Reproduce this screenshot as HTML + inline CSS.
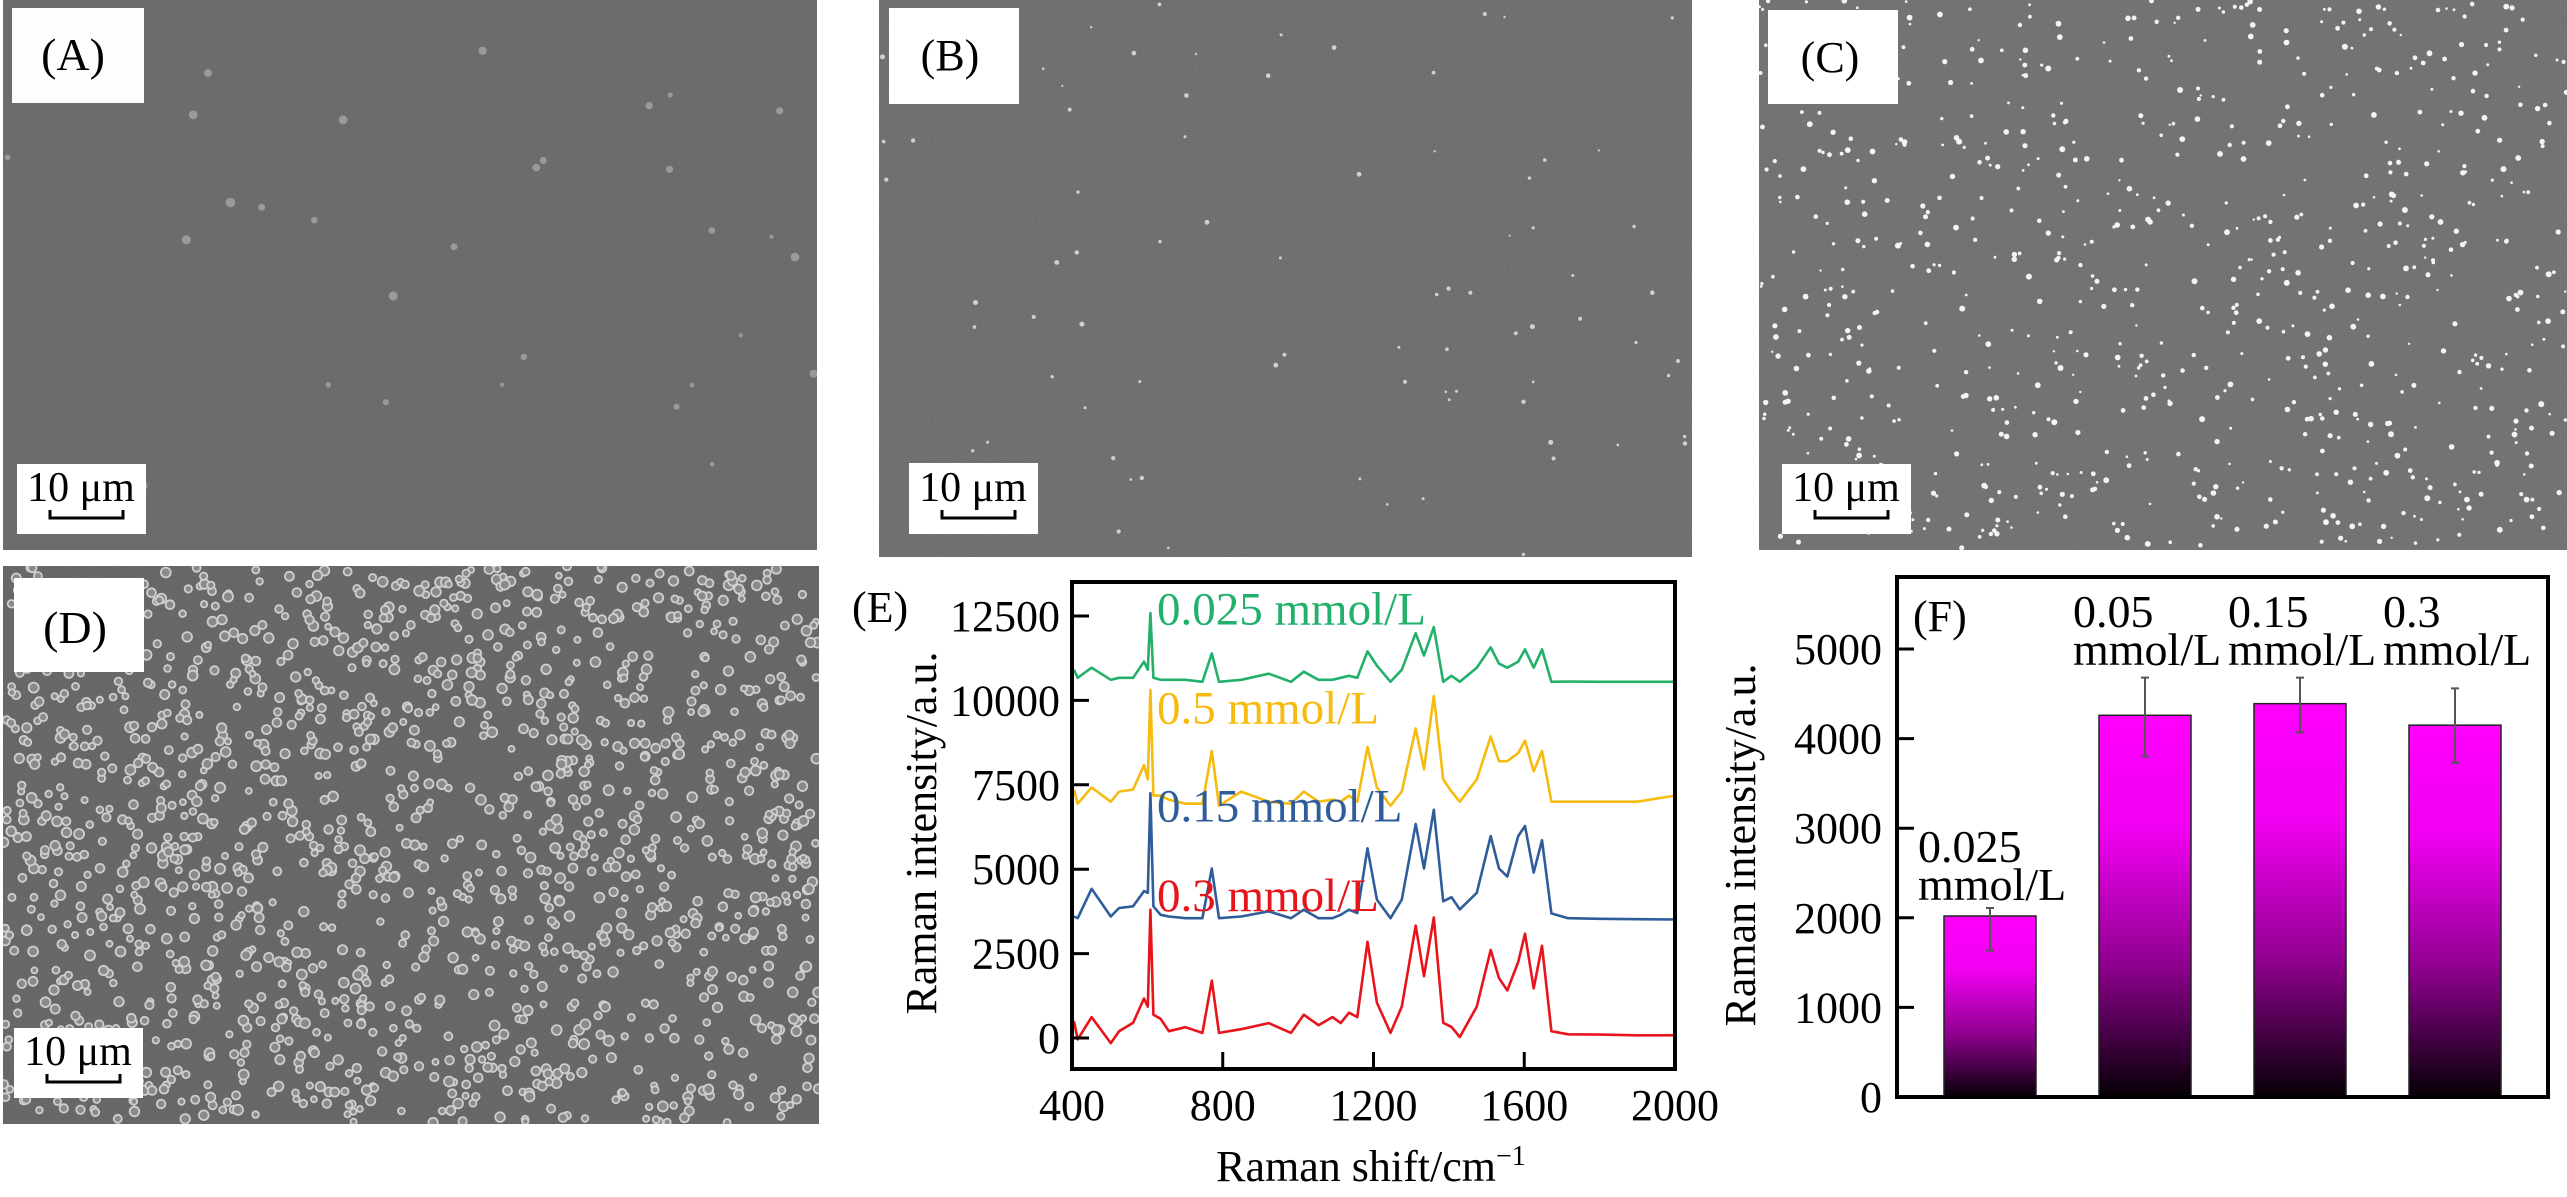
<!DOCTYPE html>
<html><head><meta charset="utf-8"><style>
html,body{margin:0;padding:0;background:#fff;}
svg{display:block;}
text{font-family:"Liberation Serif",serif;}
</style></head><body>
<svg id="fig" width="2567" height="1197" viewBox="0 0 2567 1197" xmlns="http://www.w3.org/2000/svg">
<defs>
<filter id="grain" x="0" y="0" width="100%" height="100%">
<feTurbulence type="fractalNoise" baseFrequency="0.9" numOctaves="2" seed="3" result="n"/>
<feColorMatrix type="matrix" values="0 0 0 0 1  0 0 0 0 1  0 0 0 0 1  0.9 0 0 0 -0.45"/>
</filter>
<linearGradient id="barGrad" x1="0" y1="0" x2="0" y2="1">
<stop offset="0" stop-color="#ff00ff"/>
<stop offset="0.3" stop-color="#f000f0"/>
<stop offset="0.65" stop-color="#900090"/>
<stop offset="1" stop-color="#050005"/>
</linearGradient>
<clipPath id="clipE"><rect x="1072" y="582" width="603" height="487"/></clipPath>
<clipPath id="clipA"><rect x="3" y="0" width="814" height="550"/></clipPath>
<clipPath id="clipB"><rect x="879" y="0" width="813" height="557"/></clipPath>
<clipPath id="clipC"><rect x="1759" y="0" width="808" height="550"/></clipPath>
<clipPath id="clipD"><rect x="3" y="566" width="816" height="558"/></clipPath>
</defs>

<g>
<rect x="3" y="0" width="814" height="550" fill="#6c6c6c"/>
<g id="dotsA" clip-path="url(#clipA)"></g>
<rect x="12" y="8" width="132" height="95" fill="#fdfdfd"/>
<text x="73" y="70" font-size="46" text-anchor="middle">(A)</text>
<rect x="17" y="464" width="129" height="70" fill="#fff"/>
<text x="81" y="501" font-size="42" text-anchor="middle">10 μm</text>
<path d="M50 510 V518 H123 V510" fill="none" stroke="#000" stroke-width="3"/>
</g>

<g>
<rect x="879" y="0" width="813" height="557" fill="#6e6e6e"/>
<rect x="879" y="0" width="813" height="557" filter="url(#grain)" opacity="0.35"/>
<g id="dotsB" clip-path="url(#clipB)"></g>
<rect x="889" y="8" width="130" height="96" fill="#fff"/>
<text x="950" y="70" font-size="44" text-anchor="middle">(B)</text>
<rect x="909" y="463" width="129" height="71" fill="#fff"/>
<text x="973" y="501" font-size="42" text-anchor="middle">10 μm</text>
<path d="M942 510 V518 H1015 V510" fill="none" stroke="#000" stroke-width="3"/>
</g>

<g>
<rect x="1759" y="0" width="808" height="550" fill="#727272"/>
<rect x="1759" y="0" width="808" height="550" filter="url(#grain)" opacity="0.2"/>
<g id="dotsC" clip-path="url(#clipC)"></g>
<rect x="1768" y="10" width="130" height="94" fill="#fff"/>
<text x="1830" y="72" font-size="44" text-anchor="middle">(C)</text>
<rect x="1782" y="464" width="129" height="70" fill="#fff"/>
<text x="1846" y="501" font-size="42" text-anchor="middle">10 μm</text>
<path d="M1815 510 V518 H1888 V510" fill="none" stroke="#000" stroke-width="3"/>
</g>

<g>
<rect x="3" y="566" width="816" height="558" fill="#666666"/>
<rect x="3" y="566" width="816" height="558" filter="url(#grain)" opacity="0.25"/>
<g id="dotsD" clip-path="url(#clipD)"></g>
<rect x="14" y="578" width="130" height="94" fill="#fff"/>
<text x="75" y="643" font-size="46" text-anchor="middle">(D)</text>
<rect x="14" y="1028" width="129" height="70" fill="#fff"/>
<text x="78" y="1065" font-size="42" text-anchor="middle">10 μm</text>
<path d="M47 1074 V1082 H120 V1074" fill="none" stroke="#000" stroke-width="3"/>
</g>

<g id="chartE">
<text x="852" y="622" font-size="44">(E)</text>
<g id="seriesE" clip-path="url(#clipE)"></g>
<g id="ticksE"></g>
<rect x="1072" y="582" width="603" height="487" fill="none" stroke="#000" stroke-width="4"/>
<text transform="translate(936,833) rotate(-90)" font-size="44" text-anchor="middle">Raman intensity/a.u.</text>
<text x="1371" y="1181" font-size="44" text-anchor="middle">Raman shift/cm<tspan dy="-16" font-size="28">−1</tspan></text>
</g>

<g id="chartF">
<g id="barsF"></g>
<g id="ticksF"></g>
<rect x="1897" y="577" width="651" height="520" fill="none" stroke="#000" stroke-width="4"/>
<text x="1913" y="631" font-size="44">(F)</text>
<text transform="translate(1755,845) rotate(-90)" font-size="44" text-anchor="middle">Raman intensity/a.u.</text>
</g>
</svg>
<script>
var wavenumbers = [405,415,452,503,525,562,591,601,608,616,635,657,701,746,771,790,849,922,981,1015,1054,1091,1113,1135,1157,1184,1209,1245,1275,1312,1334,1360,1385,1407,1429,1474,1511,1533,1555,1584,1602,1625,1647,1672,1716,1800,1900,2000];
var green025 = [10910,10670,10970,10610,10670,10670,11150,10910,12590,10670,10610,10610,10610,10550,11390,10550,10610,10790,10550,10850,10610,10610,10670,10730,10670,11450,11030,10550,10910,11990,11330,12170,10550,10730,10550,10970,11570,11090,10970,11150,11510,10970,11510,10550,10560,10550,10550,10550];
var gold05 = [7360,6940,7420,7000,7300,7360,8080,7660,10310,7180,7180,7060,6940,6940,8500,6880,7300,7000,6940,7300,7000,7060,7000,7180,7000,8620,7420,6880,7300,9170,7960,10130,7660,7300,7000,7660,8930,8200,8200,8440,8810,7900,8500,7000,7000,7000,7000,7180];
var blue015 = [3600,3550,4420,3600,3850,3900,4350,4300,7250,3900,3650,3600,3550,3550,5020,3550,3600,3750,3550,3800,3550,3550,3650,3800,3700,5620,4100,3550,4100,6340,5020,6760,4050,4170,3810,4300,5980,5020,4780,5980,6280,4900,5860,3690,3550,3530,3520,3510];
var red03 = [500,-40,620,-150,200,450,1170,930,3800,690,570,200,320,150,1700,150,260,440,150,690,380,620,440,750,620,2850,1050,150,930,3330,1830,3570,450,330,30,930,2610,1770,1410,2250,3090,1470,2730,200,110,100,80,80];
var seriesLabels = ["0.025 mmol/L","0.5 mmol/L","0.15 mmol/L","0.3 mmol/L"];
var seriesColors = ["#22b06a","#f7bb0f","#2f5d9a","#e8141c"];
var labelValues = [12250,9320,6420,3760];
var xTicksE = [400,800,1200,1600,2000];
var yTicksE = [0,2500,5000,7500,10000,12500];

var concCats = [["0.025","mmol/L"],["0.05","mmol/L"],["0.15","mmol/L"],["0.3","mmol/L"]];
var barValues = [2020,4260,4390,4150];
var errHigh = [2110,4680,4680,4560];
var errLow = [1635,3800,4070,3730];
var yTicksF = [0,1000,2000,3000,4000,5000];

var NS = "http://www.w3.org/2000/svg";
function mk(tag, attrs, parent){var e=document.createElementNS(NS,tag);for(var k in attrs)e.setAttribute(k,attrs[k]);if(parent)parent.appendChild(e);return e;}

var xE = function(v){return 1072 + (v-400)*(603/1600);};
var yE = function(v){return 1038 - v*(422/12500);};

var sE = document.getElementById('seriesE');
var allSeries = [green025,gold05,blue015,red03];
var seriesNames = ['series-0-025','series-0-5','series-0-15','series-0-3'];
for (var s=0;s<allSeries.length;s++){
  var pts = wavenumbers.map(function(w,i){return xE(w).toFixed(1)+','+yE(allSeries[s][i]).toFixed(1);}).join(' ');
  var pl = mk('polyline',{points:pts,fill:'none',stroke:seriesColors[s],'stroke-width':2.6,'stroke-linejoin':'round'},sE);
  
  
}
var chE = document.getElementById('chartE');
for (var s=0;s<seriesLabels.length;s++){
  var t = mk('text',{x:1157,y:yE(labelValues[s]).toFixed(1),'font-size':47,fill:seriesColors[s]},chE);
  t.textContent = seriesLabels[s];
  
  
}
var tE = document.getElementById('ticksE');
xTicksE.forEach(function(v){
  var l = mk('line',{x1:xE(v),x2:xE(v),y1:1069,y2:1052,stroke:'#000','stroke-width':3},tE);
  
  
  var t = mk('text',{x:xE(v),y:1120,'font-size':44,'text-anchor':'middle'},tE);
  t.textContent = v;
  
  
});
yTicksE.forEach(function(v){
  var l = mk('line',{x1:1072,x2:1089,y1:yE(v),y2:yE(v),stroke:'#000','stroke-width':3},tE);
  
  
  var t = mk('text',{x:1060,y:yE(v)+15,'font-size':44,'text-anchor':'end'},tE);
  t.textContent = v;
  
  
});

var xF = function(i){return 1990 + 155*i;};
var yF = function(v){return 1097 - v*(448/5000);};
var bF = document.getElementById('barsF');
barValues.forEach(function(v,i){
  var r = mk('rect',{x:xF(i)-46,y:yF(v),width:92,height:1097-yF(v),fill:'url(#barGrad)',stroke:'#222','stroke-width':1.5},bF);
  
  
  var e = mk('path',{d:'M'+xF(i)+' '+yF(errHigh[i])+' V'+yF(errLow[i])+' M'+(xF(i)-4)+' '+yF(errHigh[i])+' h8 M'+(xF(i)-4)+' '+yF(errLow[i])+' h8',stroke:'#555','stroke-width':2,fill:'none'},bF);
  
  
  var top = (i===0) ? yF(errHigh[i]) - 8 : 665;
  var lx = xF(i) - 72;
  var t1 = mk('text',{x:lx,y:top-38,'font-size':46},bF);
  t1.textContent = concCats[i][0];
  
  
  var t2 = mk('text',{x:lx,y:top,'font-size':46},bF);
  t2.textContent = concCats[i][1];
  
  
});
var tF = document.getElementById('ticksF');
yTicksF.forEach(function(v){
  var l = mk('line',{x1:1897,x2:1914,y1:yF(v),y2:yF(v),stroke:'#000','stroke-width':3},tF);
  
  
  var t = mk('text',{x:1882,y:yF(v)+15,'font-size':44,'text-anchor':'end'},tF);
  t.textContent = v;
  
  
});

// decorative SEM textures (not chart data)
var seed = 12345;
function rnd(){seed = (seed*1103515245 + 12345) % 2147483648; return seed/2147483648;}
function scatter(id, x0, y0, w, h, n, rmin, rmax, fill, stroke, sw){
  var g = document.getElementById(id);
  for (var i=0;i<n;i++){
    mk('circle',{cx:(x0+rnd()*w).toFixed(1),cy:(y0+rnd()*h).toFixed(1),r:(rmin+rnd()*(rmax-rmin)).toFixed(1),fill:fill,stroke:stroke,'stroke-width':sw},g);
  }
}
scatter('dotsA',3,0,814,550,30,2,5,'#9a9a9a','none',0);
scatter('dotsB',879,0,813,557,80,1,2.5,'#d0d0d0','none',0);
scatter('dotsC',1759,0,808,550,800,1.2,3,'#f4f4f4','none',0);
scatter('dotsD',3,566,816,558,1600,3,5,'#8a8a8a','#cfcfcf',1.8);
</script>
</body></html>
